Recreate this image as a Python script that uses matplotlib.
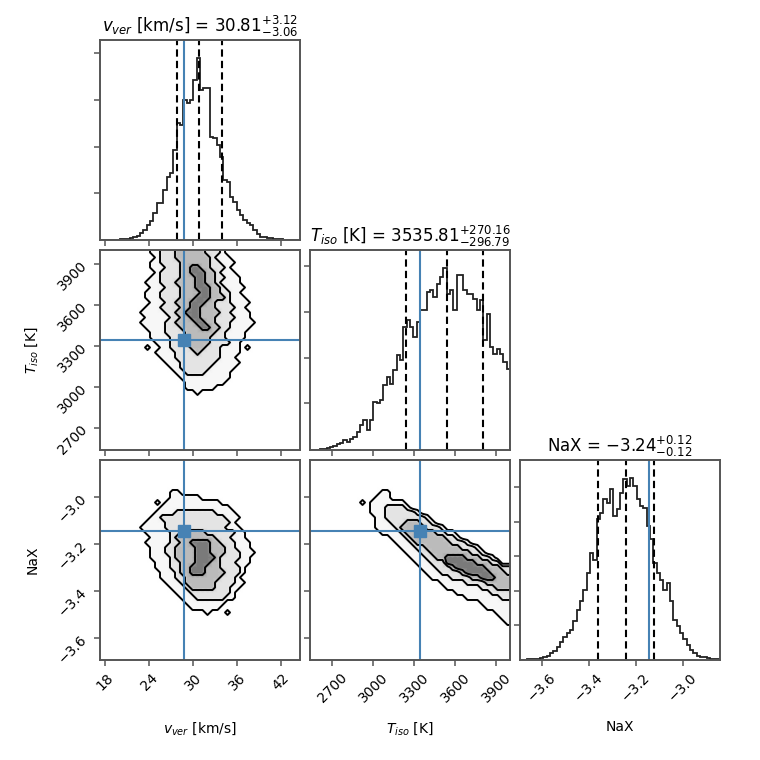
import numpy as np
import matplotlib
matplotlib.use("Agg")
import matplotlib.pyplot as plt
from matplotlib.colors import LinearSegmentedColormap

# parameter names, ranges, truths and quantiles
labels = [r"$v_{ver}$ [km/s]", r"$T_{iso}$ [K]", "NaX"]
ranges = [(17.3, 44.6), (2537, 4000), (-3.692, -2.841)]
truths = [28.8, 3345, -3.144]
medians = ["30.81", "3535.81", "-3.24"]
errs_lo = ["3.06", "296.79", "0.12"]
errs_hi = ["3.12", "270.16", "0.12"]
quantiles = [
    [27.75, 30.81, 33.93],
    [3239.02, 3535.81, 3805.97],
    [-3.36, -3.24, -3.12],
]
ticks = [
    [18, 24, 30, 36, 42],
    [2700, 3000, 3300, 3600, 3900],
    [-3.6, -3.4, -3.2, -3.0],
]

# 1D histograms (60 bins across each axis range, arbitrary units)
hist_v = [0, 0, 0, 0, 1, 1, 2, 3, 4, 6, 9, 13, 22, 30, 45, 58, 80, 110, 112, 150,
          190, 200, 270, 350, 345, 420, 410, 420, 480, 546, 450, 455, 455, 308, 305, 285, 250, 180, 175, 130,
          115, 90, 75, 60, 52, 45, 30, 18, 10, 8, 6, 5, 4, 3, 2, 1, 1, 0, 0, 0]
hist_t = [1, 1, 1, 2, 3, 5, 8, 12, 18, 22, 30, 25, 32, 38, 55, 75, 90, 60, 90, 145,
          140, 150, 195, 220, 200, 240, 285, 270, 370, 390, 370, 340, 385, 420, 420, 475, 480, 460, 500, 520,
          547, 470, 480, 420, 525, 525, 480, 470, 470, 455, 420, 450, 330, 410, 310, 290, 305, 290, 265, 245]
hist_n = [1, 1, 2, 2, 3, 4, 5, 8, 12, 20, 28, 40, 55, 70, 80, 90, 115, 150, 175, 210,
          260, 320, 300, 420, 440, 480, 470, 510, 430, 450, 500, 540, 520, 543, 520, 480, 460, 455, 400, 360,
          290, 260, 240, 210, 230, 175, 120, 100, 80, 62, 45, 30, 20, 12, 10, 8, 6, 4, 3, 2]
hists = [hist_v, hist_t, hist_n]
hist_yticks = [[140, 280, 420, 560], [140, 278, 416, 554], [103, 206, 310, 413, 517]]

# 2D density on a 40x40 grid: (row from top, level, first col, last col)
runs_v_t = [
    (0, 1, 10, 24), (0, 2, 12, 23), (0, 3, 15, 20),
    (1, 1, 11, 25), (1, 2, 12, 22), (1, 3, 15, 21),
    (2, 1, 10, 26), (2, 2, 12, 23), (2, 3, 16, 21),
    (3, 1, 10, 25), (3, 2, 13, 24), (3, 3, 16, 21), (3, 4, 18, 19),
    (4, 1, 11, 26), (4, 2, 12, 23), (4, 3, 16, 22), (4, 4, 18, 20),
    (5, 1, 10, 27), (5, 2, 12, 24), (5, 3, 16, 22), (5, 4, 19, 20),
    (6, 1, 9, 27), (6, 2, 12, 23), (6, 3, 15, 22), (6, 4, 19, 20),
    (7, 1, 10, 28), (7, 2, 13, 24), (7, 3, 16, 23), (7, 4, 19, 21),
    (8, 1, 9, 27), (8, 2, 12, 25), (8, 3, 16, 23), (8, 4, 20, 21),
    (9, 1, 9, 28), (9, 2, 12, 25), (9, 3, 16, 24), (9, 4, 19, 21),
    (10, 1, 10, 29), (10, 2, 13, 25), (10, 3, 15, 22), (10, 4, 18, 20),
    (11, 1, 9, 28), (11, 2, 12, 26), (11, 3, 16, 22), (11, 4, 18, 19),
    (12, 1, 8, 29), (12, 2, 13, 25), (12, 3, 15, 23), (12, 4, 17, 19),
    (13, 1, 9, 29), (13, 2, 14, 26), (13, 3, 16, 22), (13, 4, 18, 19),
    (14, 1, 8, 30), (14, 2, 13, 25), (14, 3, 15, 22), (14, 4, 19, 20),
    (15, 1, 9, 29), (15, 2, 13, 25), (15, 3, 16, 23), (15, 4, 20, 21),
    (16, 1, 10, 28), (16, 2, 13, 24), (16, 3, 17, 22),
    (17, 1, 10, 28), (17, 2, 14, 24), (17, 3, 17, 21),
    (18, 1, 11, 27), (18, 2, 14, 25), (18, 3, 17, 21),
    (19, 1, 9, 9), (19, 1, 12, 27), (19, 2, 14, 23), (19, 3, 18, 20), (19, 1, 29, 29),
    (20, 1, 11, 27), (20, 2, 15, 23), (20, 3, 19, 19),
    (21, 1, 12, 26), (21, 2, 15, 23),
    (22, 1, 13, 27), (22, 2, 16, 22),
    (23, 1, 14, 26), (23, 2, 16, 21),
    (24, 1, 15, 25), (24, 2, 17, 20),
    (25, 1, 16, 25),
    (26, 1, 17, 24),
    (27, 1, 17, 22),
    (28, 1, 19, 19),
]
runs_v_n = [
    (6, 1, 14, 15),
    (7, 1, 14, 19),
    (8, 1, 11, 11), (8, 1, 13, 23),
    (9, 1, 12, 25),
    (10, 1, 11, 26), (10, 2, 15, 22),
    (11, 1, 10, 27), (11, 2, 12, 24),
    (12, 1, 9, 26), (12, 2, 13, 25),
    (13, 1, 8, 27), (13, 2, 13, 24),
    (14, 1, 9, 28), (14, 2, 14, 26), (14, 3, 16, 20),
    (15, 1, 10, 28), (15, 2, 14, 25), (15, 3, 15, 22),
    (16, 1, 9, 29), (16, 2, 14, 26), (16, 3, 16, 23), (16, 4, 18, 21),
    (17, 1, 10, 29), (17, 2, 13, 26), (17, 3, 15, 24), (17, 4, 19, 21),
    (18, 1, 10, 30), (18, 2, 13, 27), (18, 3, 15, 24), (18, 4, 19, 21),
    (19, 1, 10, 29), (19, 2, 14, 27), (19, 3, 15, 23), (19, 4, 19, 22),
    (20, 1, 11, 29), (20, 2, 14, 26), (20, 3, 16, 23), (20, 4, 19, 21),
    (21, 1, 11, 28), (21, 2, 14, 27), (21, 3, 16, 23), (21, 4, 18, 20),
    (22, 1, 12, 28), (22, 2, 15, 27), (22, 3, 16, 24), (22, 4, 18, 20),
    (23, 1, 12, 27), (23, 2, 15, 26), (23, 3, 17, 23),
    (24, 1, 13, 28), (24, 2, 16, 26), (24, 3, 17, 22),
    (25, 1, 14, 27), (25, 2, 17, 25), (25, 3, 18, 22),
    (26, 1, 15, 26), (26, 2, 18, 25),
    (27, 1, 16, 26), (27, 2, 19, 24),
    (28, 1, 17, 24),
    (29, 1, 18, 23),
    (30, 1, 21, 21), (30, 1, 25, 25),
]
runs_t_n = [
    (6, 1, 14, 15),
    (7, 1, 13, 15),
    (8, 1, 10, 10), (8, 1, 12, 18),
    (9, 1, 12, 19), (9, 2, 15, 18),
    (10, 1, 12, 21), (10, 2, 15, 20),
    (11, 1, 13, 23), (11, 2, 15, 22),
    (12, 1, 13, 24), (12, 2, 16, 23), (12, 3, 19, 21),
    (13, 1, 13, 26), (13, 2, 17, 25), (13, 3, 18, 22),
    (14, 1, 14, 28), (14, 2, 18, 26), (14, 3, 19, 24),
    (15, 1, 16, 29), (15, 2, 19, 28), (15, 3, 20, 26),
    (16, 1, 17, 31), (16, 2, 20, 30), (16, 3, 21, 27),
    (17, 1, 18, 33), (17, 2, 21, 32), (17, 3, 23, 29),
    (18, 1, 19, 34), (18, 2, 22, 33), (18, 3, 24, 31),
    (19, 1, 20, 36), (19, 2, 23, 35), (19, 3, 25, 33), (19, 4, 27, 30),
    (20, 1, 21, 37), (20, 2, 24, 37), (20, 3, 27, 35), (20, 4, 27, 32),
    (21, 1, 22, 39), (21, 2, 25, 39), (21, 3, 28, 37), (21, 4, 29, 34),
    (22, 1, 23, 39), (22, 2, 26, 39), (22, 3, 30, 38), (22, 4, 31, 35),
    (23, 1, 24, 39), (23, 2, 28, 39), (23, 3, 32, 39), (23, 4, 34, 36),
    (24, 1, 26, 39), (24, 2, 31, 39), (24, 3, 35, 39),
    (25, 1, 27, 39), (25, 2, 34, 39), (25, 3, 37, 39),
    (26, 1, 29, 39), (26, 2, 36, 39),
    (27, 1, 31, 39), (27, 2, 38, 39),
    (28, 1, 34, 39),
    (29, 1, 35, 39),
    (30, 1, 37, 39),
    (31, 1, 38, 39),
    (32, 1, 39, 39),
]
runs = {(1, 0): runs_v_t, (2, 0): runs_v_n, (2, 1): runs_t_n}
grid_n = 40

truth_color = "#4682b4"
frame_color = "#555555"
dens_cmap = LinearSegmentedColormap.from_list(
    "dens", ["white", "#f7f7f7", "#e4e4e4", "#bcbcbc", "#7a7a7a"])


def density_grid(run_list):
    z = np.zeros((grid_n, grid_n))
    for row, level, c0, c1 in run_list:
        z[row, c0:c1 + 1] = np.maximum(z[row, c0:c1 + 1], level)
    # pad so the contours run out to the frame
    return np.pad(np.flipud(z), 1, mode="edge")


def centres(lo, hi):
    step = (hi - lo) / grid_n
    return lo + (np.arange(-1, grid_n + 1) + 0.5) * step


fig, axes = plt.subplots(3, 3, figsize=(7.6, 7.6), dpi=100)
fig.subplots_adjust(left=0.1316, right=0.9474, bottom=0.1316, top=0.9474,
                    wspace=0.05, hspace=0.05)

for i in range(3):
    for j in range(3):
        ax = axes[i, j]
        if j > i:
            ax.set_axis_off()
            continue
        for sp in ax.spines.values():
            sp.set_color(frame_color)
            sp.set_linewidth(1.4)
        ax.tick_params(color=frame_color, width=1.1, length=4)
        ax.set_xlim(ranges[j])
        ax.set_xticks(ticks[j])
        if i == j:
            lo, hi = ranges[i]
            edges = np.linspace(lo, hi, len(hists[i]) + 1)
            ax.stairs(hists[i], edges, color="#222222", lw=1.3)
            ax.set_ylim(0, 1.1 * max(hists[i]))
            for q in quantiles[i]:
                ax.axvline(q, color="k", ls=(0, (3.5, 2)), lw=1.5)
            ax.axvline(truths[i], color=truth_color, lw=1.5)
            ax.set_yticks(hist_yticks[i])
            ax.set_yticklabels([])
            title = "{} = ${}_{{-{}}}^{{+{}}}$".format(
                labels[i], medians[i], errs_lo[i], errs_hi[i])
            ax.set_title(title, fontsize=12)
        else:
            z = density_grid(runs[(i, j)])
            xs = centres(*ranges[j])
            ys = centres(*ranges[i])
            ax.pcolormesh(xs, ys, z, cmap=dens_cmap, vmin=0, vmax=4,
                          shading="gouraud", rasterized=True)
            ax.contour(xs, ys, z, levels=[0.5, 1.5, 2.5, 3.5], colors="k",
                       linewidths=1.4)
            ax.set_xlim(ranges[j])
            ax.set_ylim(ranges[i])
            ax.set_yticks(ticks[i])
            ax.axvline(truths[j], color=truth_color, lw=1.5)
            ax.axhline(truths[i], color=truth_color, lw=1.5)
            ax.plot(truths[j], truths[i], "s", color=truth_color, ms=8)
            if j == 0:
                ax.set_ylabel(labels[i])
                ax.yaxis.set_label_coords(-0.3, 0.5)
                for lab in ax.get_yticklabels():
                    lab.set_rotation(45)
            else:
                ax.set_yticklabels([])
        if i == 2:
            ax.set_xlabel(labels[j])
            ax.xaxis.set_label_coords(0.5, -0.3)
            for lab in ax.get_xticklabels():
                lab.set_rotation(45)
        else:
            ax.set_xticklabels([])

plt.savefig("out.png", dpi=100)
